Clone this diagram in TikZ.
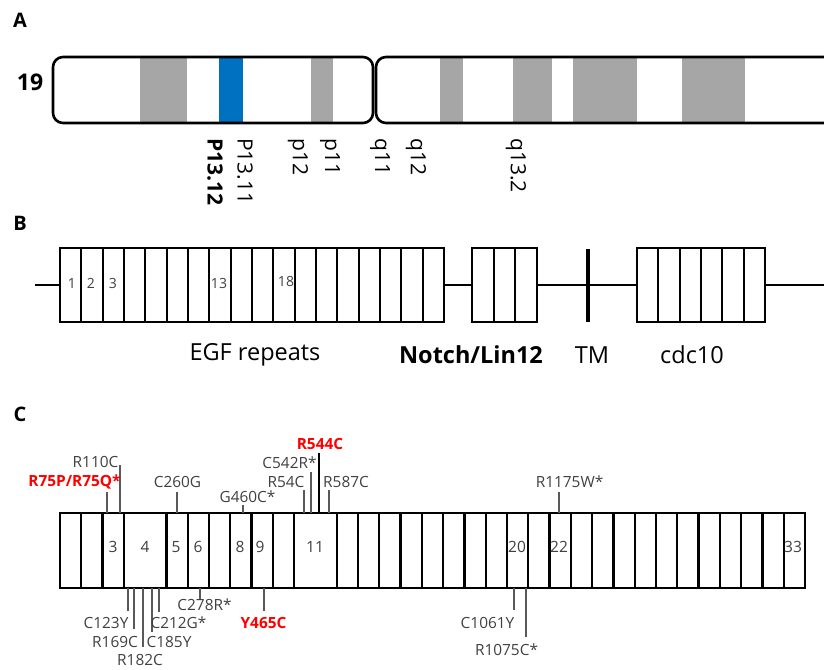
\documentclass[tikz,border=0pt]{standalone}
\usepackage{fontspec}
\setmainfont{Open Sans}
\definecolor{bandgray}{HTML}{A6A6A6}
\definecolor{bandblue}{HTML}{0070C0}
\definecolor{labgray}{HTML}{404040}
\definecolor{tickgray}{HTML}{595959}
\definecolor{mutred}{HTML}{FF0000}
\tikzset{
  band/.style={fill=bandgray, draw=none},
  chrom/.style={draw=black, line width=2.6pt, rounded corners=10pt},
  cyto/.style={rotate=-90, anchor=west, font=\fontsize{21}{22}\selectfont, inner sep=0pt},
  panel/.style={font=\fontsize{20}{22}\selectfont\bfseries, inner sep=0pt},
  domlab/.style={font=\fontsize{23.5}{26}\selectfont, inner sep=0pt},
  dombox/.style={draw=black, line width=2.4pt, fill=white, inner sep=0pt, minimum height=74pt},
  divider/.style={draw=black, line width=2.3pt},
  backbone/.style={draw=black, line width=2pt},
  boxnum/.style={font=\fontsize{14}{16}\selectfont, inner sep=0pt, text=labgray},
  cnum/.style={font=\fontsize{15.5}{17}\selectfont, inner sep=0pt, text=labgray},
  mutlab/.style={font=\fontsize{15.4}{17}\selectfont, text=labgray, inner sep=0pt},
  mutredlab/.style={font=\fontsize{15.4}{17}\selectfont\bfseries, text=mutred, inner sep=0pt},
  tick/.style={draw=tickgray, line width=1.2pt},
}
\begin{document}
\begin{tikzpicture}[x=1pt,y=-1pt]
\useasboundingbox (0,0) rectangle (824,669);
\clip (0,0) rectangle (824,669);

% ---------------- Panel A ----------------
\node[panel] (lA) at (20,20) {A};
\node[font=\fontsize{23}{25}\selectfont\bfseries, inner sep=0pt] (chr) at (30,82) {19};
% p arm
\fill[white] (53,57) rectangle (373,123);
\fill[band] (140,57) rectangle (187,123);
\fill[bandblue] (219,57) rectangle (243,123);
\fill[band] (311,57) rectangle (333,123);
\draw[chrom] (53,57) rectangle (373,123);
% q arm
\fill[band] (440,57) rectangle (463,123);
\fill[band] (513,57) rectangle (552,123);
\fill[band] (573,57) rectangle (637,123);
\fill[band] (682,57) rectangle (745,123);
\draw[chrom] (376,57) rectangle (860,123);
% cytoband labels
\node[cyto, font=\fontsize{21}{22}\selectfont\bfseries] (b1) at (215,138) {P13.12};
\node[cyto] (b2) at (245,138) {P13.11};
\node[cyto] (b3) at (298,138) {p12};
\node[cyto] (b4) at (330,138) {p11};
\node[cyto] (b5) at (380,138) {q11};
\node[cyto] (b6) at (416,138) {q12};
\node[cyto] (b7) at (516,138) {q13.2};

% ---------------- Panel B ----------------
\node[panel] (lB) at (20,223) {B};
\coordinate (bstart) at (35,285);
\coordinate (bend) at (824,285);
\node[dombox, minimum width=384pt] (egf) at (252,285) {};
\node[dombox, minimum width=65pt] (nl) at (504.5,285) {};
\node[dombox, minimum width=128pt] (cdc) at (701,285) {};
\draw[backbone] (bstart) -- (egf.west);
\draw[backbone] (egf.east) -- (nl.west);
\draw[backbone] (nl.east) -- (cdc.west);
\draw[backbone] (cdc.east) -- (bend);
\coordinate (tmtop) at (588,249);
\coordinate (tmbot) at (588,322);
\draw[black, line width=4pt] (tmtop) -- (tmbot);
\foreach \i in {1,...,17} {
  \draw[divider] ({60+\i*21.333},248) -- ({60+\i*21.333},322);
}
\foreach \i in {1,2} {
  \draw[divider] ({472+\i*21.667},248) -- ({472+\i*21.667},322);
}
\foreach \i in {1,...,5} {
  \draw[divider] ({637+\i*21.333},248) -- ({637+\i*21.333},322);
}
\node[boxnum] (n1) at (72,283) {1};
\node[boxnum] (n2) at (91,283) {2};
\node[boxnum] (n3) at (113,283) {3};
\node[boxnum] (n13) at (219,283) {13};
\node[boxnum] (n18) at (286,281) {18};
\node[domlab] (egfl) at (255,355) {EGF repeats};
\node[domlab, font=\fontsize{23.5}{26}\selectfont\bfseries] (nll) at (471,355) {Notch/Lin12};
\node[domlab] (tml) at (592,355) {TM};
\node[domlab] (cdcl) at (692,355) {cdc10};

% ---------------- Panel C ----------------
\node[panel] (lC) at (20,414) {C};
\node[dombox, minimum width=745pt, minimum height=75pt, line width=2.6pt] (prot) at (432.5,550.5) {};
\foreach \u in {1,2,3,5,6,7,8,9,10,11,13,14,15,16,17,18,19,20,21,22,23,24,25,26,27,28,29,30,31,32,33,34} {
  \draw[divider] ({60+\u*21.2857},513) -- ({60+\u*21.2857},588);
}
\node[cnum] (c3) at (113,547) {3};
\node[cnum] (c4) at (145,547) {4};
\node[cnum] (c5) at (176,547) {5};
\node[cnum] (c6) at (198,547) {6};
\node[cnum] (c8) at (240,547) {8};
\node[cnum] (c9) at (260,547) {9};
\node[cnum] (c11) at (315,547) {11};
\node[cnum] (c20) at (517,547) {20};
\node[cnum] (c22) at (559,547) {22};
\node[cnum] (c33) at (793,547) {33};

% top mutations
\foreach \n/\x/\y in {r75/107/492, r110/120/465, c260/177/492, g460/243/505, r54/304/490, c542/311/472, r587/329/490, r1175/559/492} {
  \coordinate (\n-a) at (\x,513);
  \coordinate (\n-b) at (\x,\y);
  \draw[tick] (\n-a) -- (\n-b);
}
\coordinate (r544-a) at (319,513);
\coordinate (r544-b) at (319,453);
\draw[black, line width=1.2pt] (r544-a) -- (r544-b);
\node[mutredlab] (m1) at (74.5,482) {R75P/R75Q*};
\node[mutlab] (m2) at (95.5,462) {R110C};
\node[mutlab] (m3) at (177.5,482) {C260G};
\node[mutlab] (m4) at (247.5,497) {G460C*};
\node[mutlab] (m5) at (286,482) {R54C};
\node[mutlab] (m6) at (289.5,463) {C542R*};
\node[mutredlab] (m7) at (320,444) {R544C};
\node[mutlab] (m8) at (346,482) {R587C};
\node[mutlab] (m9) at (569.5,482) {R1175W*};

% bottom mutations
\foreach \n/\x/\y in {c123/128/611, r169/134/629, r182/143/647, c185/152/632, c212/159/612, c278/200/599, y465/264/611, c1061/514/610, r1075/526/637} {
  \coordinate (\n-a) at (\x,588);
  \coordinate (\n-b) at (\x,\y);
  \draw[tick] (\n-a) -- (\n-b);
}
\node[mutlab] (k1) at (106,623) {C123Y};
\node[mutlab] (k2) at (115,642) {R169C};
\node[mutlab] (k3) at (140,660) {R182C};
\node[mutlab] (k4) at (169,642) {C185Y};
\node[mutlab] (k5) at (178.5,623) {C212G*};
\node[mutlab] (k6) at (204.5,605) {C278R*};
\node[mutredlab] (k7) at (263.5,623) {Y465C};
\node[mutlab] (k8) at (487.5,623) {C1061Y};
\node[mutlab] (k9) at (506.5,650) {R1075C*};
\end{tikzpicture}
\end{document}
